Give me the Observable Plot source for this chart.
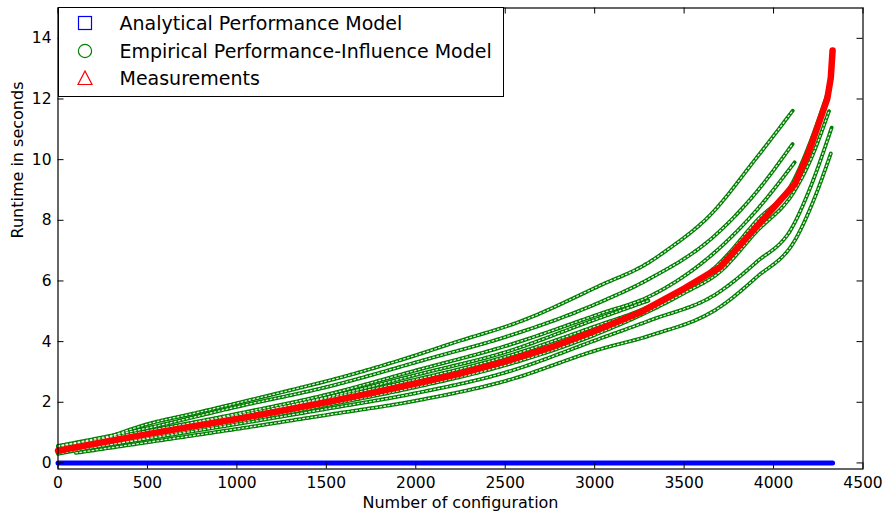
<!DOCTYPE html>
<html><head><meta charset="utf-8">
<script src="https://cdn.jsdelivr.net/npm/d3@7"></script>
<script src="https://cdn.jsdelivr.net/npm/@observablehq/plot@0.6"></script>
<style>
body{margin:0;background:#fff;}
#wrap{position:relative;width:882px;height:515px;font-family:"DejaVu Sans",sans-serif;}
#legend{position:absolute;left:57.5px;top:7px;width:446px;height:90px;border:1.2px solid #000;background:#fff;box-sizing:border-box;}
.row{position:absolute;left:0;height:24px;line-height:24px;font-size:19px;color:#000;white-space:nowrap;}
.row svg{position:absolute;left:18px;top:4px;}
.row span{position:absolute;left:61px;top:0;}
</style></head><body><div id="wrap"></div>
<script>
// ---- data ----
const seriesNames = ["Analytical Performance Model", "Empirical Performance-Influence Model", "Measurements"];
const seriesColors = ["#0000ff", "#008000", "#ff0000"];
const xTicks = [0, 500, 1000, 1500, 2000, 2500, 3000, 3500, 4000, 4500];
const yTicks = [0, 2, 4, 6, 8, 10, 12, 14];

// Analytical model: ~0 s for every configuration
const analytical = [[0, 0], [4330, 0]];

// Measurements (sorted by runtime)
const measurements = [[0,0.40],[250,0.68],[500,0.95],[750,1.20],[1000,1.45],[1250,1.72],[1500,2.00],[1750,2.30],[2000,2.62],[2250,2.95],[2500,3.35],[2750,3.80],[3000,4.35],[3250,4.95],[3500,5.75],[3700,6.45],[4120,9.20],[4200,10.30],[4300,12.00],[4320,12.70],[4330,13.60]];

// Empirical model predictions, grouped in strands
const empA = [[250,0.78],[500,1.28],[750,1.62],[1000,1.97],[1300,2.40],[1600,2.85],[2000,3.55],[2200,3.94],[2600,4.70],[3030,5.85],[3300,6.60],[3400,7.00],[3650,8.20],[3890,9.95],[4108,11.62]];
const empB = [[0,0.56],[500,1.15],[1000,1.85],[1500,2.50],[2080,3.45],[2500,4.15],[3030,5.30],[3309,6.08],[3663,7.45],[3900,8.90],[4108,10.53]];
const empC = [[0,0.50],[500,1.05],[1000,1.62],[1500,2.25],[2000,3.05],[2500,3.85],[3030,4.92],[3309,5.50],[3682,7.00],[3900,8.30],[4120,9.93]];
const empD = [[0,0.55],[500,1.05],[1000,1.57],[1500,2.12],[2000,2.75],[2500,3.50],[3000,4.50],[3300,5.15],[3700,6.60],[3900,7.95],[4120,9.40],[4200,10.50],[4310,12.34]];
const empE = [[1200,1.78],[1600,2.30],[2000,2.90],[2500,3.65],[3000,4.72],[3300,5.35]];
const empF = [[0,0.30],[500,0.85],[1000,1.35],[1500,1.90],[2000,2.50],[2500,3.22],[3000,4.22],[3500,5.60],[3700,6.30],[3900,7.60],[4120,9.00],[4200,9.90],[4310,11.60]];
const empG = [[0,0.33],[500,0.80],[1000,1.28],[1500,1.78],[2000,2.30],[2500,2.98],[3030,4.10],[3309,4.70],[3682,5.58],[3900,6.60],[4110,7.83],[4200,9.00],[4325,11.06]];
const empH = [[100,0.33],[500,0.68],[1000,1.12],[1500,1.58],[2000,2.05],[2500,2.70],[3030,3.75],[3309,4.20],[3700,5.14],[3900,6.10],[4130,7.45],[4220,8.60],[4320,10.20]];

// ---- build tables ----
const toRows = (arr, s) => arr.map(([x, y]) => ({x, y, s}));
const strands = [empA, empB, empC, empD, empE, empF, empG, empH];
const empirical = strands.flatMap((a, i) => toRows(a, i));
const meas = toRows(measurements, 0);
const ana = toRows(analytical, 0);

const chart = Plot.plot({
  width: 882, height: 515,
  marginLeft: 57.5, marginRight: 19.5, marginTop: 7.5, marginBottom: 46.5,
  x: {domain: [0, 4500], label: null},
  y: {domain: [-0.2, 15], label: null},
  style: {fontFamily: "DejaVu Sans", fontSize: "15.5px", color: "#000", background: "#fff", overflow: "visible"},
  marks: [
    Plot.line(ana, {x: "x", y: "y", stroke: seriesColors[0], strokeWidth: 5}),
    Plot.line(empirical, {x: "x", y: "y", z: "s", stroke: seriesColors[1], strokeWidth: 3.8, strokeDasharray: "3.4,0.7", curve: "monotone-x"}),
    Plot.line(empirical, {x: "x", y: "y", z: "s", stroke: "#fff", strokeWidth: 1.3, strokeOpacity: 0.9, strokeDasharray: "1.6,2.5", curve: "monotone-x"}),
    Plot.line(meas, {x: "x", y: "y", stroke: seriesColors[2], strokeWidth: 6.5, strokeLinejoin: "round"}),
    Plot.frame({stroke: "#000", strokeWidth: 1.2}),
    Plot.tickX(xTicks, {x: d => d, stroke: "#000", insetTop: 455}),
    Plot.tickX(xTicks, {x: d => d, stroke: "#000", insetBottom: 455}),
    Plot.tickY(yTicks, {y: d => d, stroke: "#000", insetRight: 799}),
    Plot.tickY(yTicks, {y: d => d, stroke: "#000", insetLeft: 799}),
    Plot.axisX({ticks: xTicks, tickSize: 0, tickPadding: 7.5, tickFormat: d3.format("d")}),
    Plot.axisY({ticks: yTicks, tickSize: 0, tickPadding: 6.5, tickFormat: d3.format("d")}),
    Plot.text(["Number of configuration"], {text: d => d, frameAnchor: "bottom", dy: 34, lineAnchor: "middle", fontSize: 16}),
    Plot.text(["Runtime in seconds"], {text: d => d, frameAnchor: "left", rotate: -90, dx: -40, fontSize: 16})
  ]
});
const wrap = document.getElementById("wrap");
wrap.appendChild(chart);

// legend
const leg = document.createElement("div");
leg.id = "legend";
const shapes = [
  `<svg width="16" height="16"><rect x="1.5" y="1.5" width="13" height="13" fill="none" stroke="${seriesColors[0]}" stroke-width="1.2"/></svg>`,
  `<svg width="16" height="16"><circle cx="8" cy="8" r="6.6" fill="none" stroke="${seriesColors[1]}" stroke-width="1.2"/></svg>`,
  `<svg width="16" height="16"><polygon points="8,1 15,14.5 1,14.5" fill="none" stroke="${seriesColors[2]}" stroke-width="1.2"/></svg>`
];
const rowTops = [3, 31, 58];
seriesNames.forEach((name, i) => {
  const r = document.createElement("div");
  r.className = "row";
  r.style.top = rowTops[i] + "px";
  r.innerHTML = shapes[i] + `<span>${name}</span>`;
  leg.appendChild(r);
});
wrap.appendChild(leg);
</script>
</body></html>
